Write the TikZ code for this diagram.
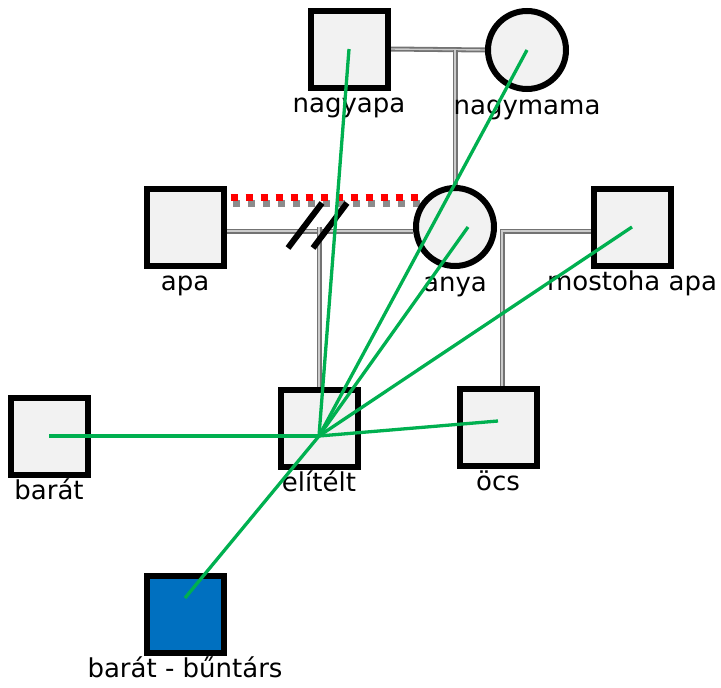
\documentclass[tikz,border=0pt]{standalone}
\usepackage{fontspec}
\setmainfont{DejaVu Sans}
\usetikzlibrary{positioning,calc,backgrounds}
\definecolor{boxgray}{HTML}{F2F2F2}
\definecolor{linkgreen}{HTML}{00B050}
\definecolor{accomplice}{HTML}{0070C0}
\tikzset{
    personbox/.style={draw=black,line width=6pt,fill=boxgray,inner sep=0pt},
    male/.style={personbox,rectangle,minimum size=77pt},
    female/.style={personbox,circle,minimum size=78pt},
    namelabel/.style={inner sep=0pt,font=\fontsize{26}{30}\selectfont},
    family line/.style={draw=black!55,double=black!20,double distance=1.4pt,line width=1.8pt},
    conflict/.style={red,line width=7pt,dash pattern=on 7pt off 8pt},
    conflict shadow/.style={black,opacity=.45,line width=7pt,dash pattern=on 7pt off 8pt},
    divorce/.style={black,line width=6pt},
    tie/.style={linkgreen,line width=3.3pt},
}

\begin{document}
\begin{tikzpicture}[x=1pt,y=-1pt]
    \useasboundingbox (0,0) rectangle (721,688);

    % persons
    \node[male] (nagyapa) at (349,49) {};
    \node[female] (nagymama) at (527,50) {};
    \node[male] (apa) at (185,227) {};
    \node[female] (anya) at (455,227) {};
    \node[male] (mostoha) at (632,227) {};
    \node[male] (barat) at (49,436) {};
    \node[male] (elitelt) at (319,428) {};
    \node[male] (ocs) at (498,427) {};
    \node[male,fill=accomplice] (buntars) at (185,614) {};

    % names
    \node[namelabel,below=22pt of nagyapa.south,anchor=base] (nagyapa-n) {nagyapa};
    \node[namelabel,below=22pt of nagymama.south,anchor=base] (nagymama-n) {nagymama};
    \node[namelabel,below=22pt of apa.south,anchor=base] (apa-n) {apa};
    \node[namelabel,below=22pt of anya.south,anchor=base] (anya-n) {anya};
    \node[namelabel,below=22pt of mostoha.south,anchor=base] (mostoha-n) {mostoha apa};
    \node[namelabel,below=22pt of barat.south,anchor=base] (barat-n) {barát};
    \node[namelabel,below=22pt of elitelt.south,anchor=base] (elitelt-n) {elítélt};
    \node[namelabel,below=22pt of ocs.south,anchor=base] (ocs-n) {öcs};
    \node[namelabel,below=22pt of buntars.south,anchor=base] (buntars-n) {barát - bűntárs};

    % family lines
    \begin{scope}[on background layer]
        \draw[family line] (nagyapa.east) -- (nagymama.west);
        \draw[family line] (anya.north) -- (anya.north |- nagymama.west);
        \draw[family line] ([shift={(0,4)}]apa.east) -- ([shift={(0,4)}]anya.west);
        \draw[family line] (elitelt.north) -- (elitelt.north |- anya.west);
        \draw[family line] ([shift={(0,4)}]mostoha.west) -| ([shift={(4,0)}]ocs.north);
    \end{scope}

    % conflict and divorce
    \draw[conflict shadow] ([shift={(6,-24)}]apa.east) -- ([shift={(7,-24)}]anya.west);
    \draw[conflict] ([shift={(4,-30)}]apa.east) -- ([shift={(5,-30)}]anya.west);
    \coordinate (div) at (elitelt.north |- apa.east);
    \draw[divorce] ([shift={(-31,21)}]div) -- ([shift={(3,-24)}]div);
    \draw[divorce] ([shift={(-6,21)}]div) -- ([shift={(28,-24)}]div);

    % ties of the convict
    \coordinate (hub) at ([shift={(0,8)}]elitelt.center);
    \draw[tie] (hub) -- (nagyapa.center);
    \draw[tie] (hub) -- (nagymama.center);
    \draw[tie] (hub) -- ([shift={(13,0)}]anya.center);
    \draw[tie] (hub) -- (mostoha.center);
    \draw[tie] (hub) -- ([shift={(0,-6)}]ocs.center);
    \draw[tie] (hub) -- (barat.center);
    \draw[tie] (hub) -- ([shift={(0,-16)}]buntars.center);
\end{tikzpicture}
\end{document}
